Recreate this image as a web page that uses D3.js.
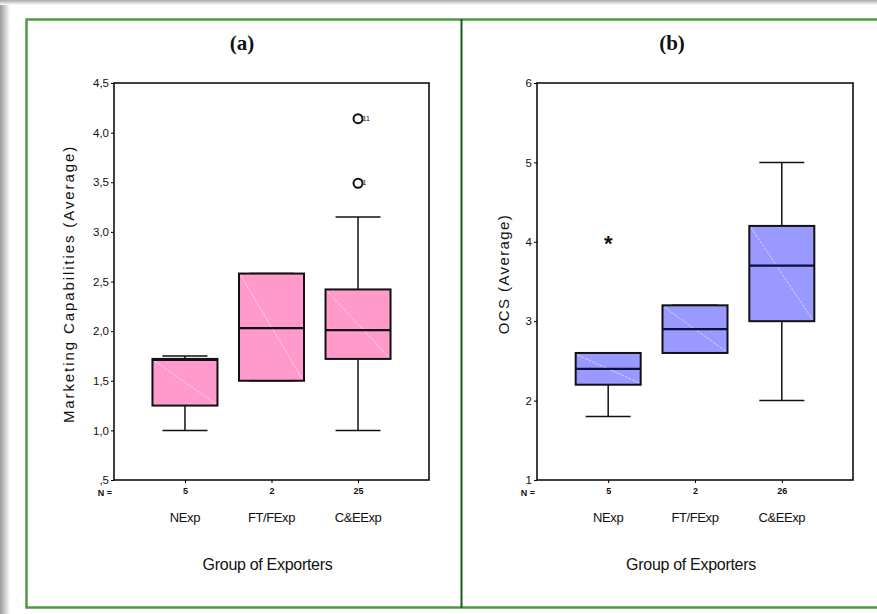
<!DOCTYPE html>
<html>
<head>
<meta charset="utf-8">
<script src="https://cdn.jsdelivr.net/npm/d3@7"></script>
<style>
  body { margin: 0; background: #fff; }
  svg { display: block; }
  text { font-family: "Liberation Sans Narrow", "Liberation Sans", Arial, sans-serif; fill: #111; }
</style>
</head>
<body>
<svg id="chart" width="877" height="614"></svg>
<script>
// groups and counts
const groups = ['NExp', 'FT/FExp', 'C&EExp'];
const countsA = [5, 2, 25];
const countsB = [5, 2, 26];

// box stats: [lowWhisker, q1, median, q3, highWhisker]
const marketingStats = [
  [1.0, 1.25, 1.71, 1.72, 1.75],
  [1.5, 1.5, 2.03, 2.58, 2.58],
  [1.0, 1.72, 2.01, 2.42, 3.15]
];
const marketingOutliers = [
  { group: 'C&EExp', value: 4.14, label: '11' },
  { group: 'C&EExp', value: 3.49, label: '1' }
];
const ocsStats = [
  [1.8, 2.2, 2.4, 2.6, 2.6],
  [2.6, 2.6, 2.9, 3.2, 3.2],
  [2.0, 3.0, 3.7, 4.2, 5.0]
];
const ocsExtremes = [
  { group: 'NExp', value: 4.0 }
];

const ticksA = [0.5, 1.0, 1.5, 2.0, 2.5, 3.0, 3.5, 4.0, 4.5];
const ticksB = [1, 2, 3, 4, 5, 6];

const svg = d3.select('#chart');

// shadow on the top and left edge
const defs = svg.append('defs');
const gl = defs.append('linearGradient').attr('id', 'shL').attr('x1', 0).attr('x2', 1).attr('y1', 0).attr('y2', 0);
gl.append('stop').attr('offset', 0).attr('stop-color', '#9a9a9a');
gl.append('stop').attr('offset', 1).attr('stop-color', '#fff');
const gt = defs.append('linearGradient').attr('id', 'shT').attr('x1', 0).attr('x2', 0).attr('y1', 0).attr('y2', 1);
gt.append('stop').attr('offset', 0).attr('stop-color', '#a8a8a8');
gt.append('stop').attr('offset', 1).attr('stop-color', '#fff');
svg.append('rect').attr('x', 0).attr('y', 0).attr('width', 10).attr('height', 614).attr('fill', 'url(#shL)');
svg.append('rect').attr('x', 0).attr('y', 0).attr('width', 877).attr('height', 5).attr('fill', 'url(#shT)');

// green frame
svg.append('path')
  .attr('d', 'M880,19.5 H26.5 V607.5 H880')
  .attr('fill', 'none').attr('stroke', '#4e9a44').attr('stroke-width', 2.5);
svg.append('line')
  .attr('x1', 461.5).attr('x2', 461.5).attr('y1', 19).attr('y2', 608)
  .attr('stroke', '#1d5a1d').attr('stroke-width', 2);

function drawPanel(opt) {
  const x = d3.scalePoint()
    .domain(groups)
    .range([opt.left, opt.right])
    .padding(0.82);
  const y = d3.scaleLinear()
    .domain(opt.domain)
    .range([480, 83]);

  const g = svg.append('g');

  // title
  g.append('text')
    .attr('x', opt.titleX).attr('y', 50)
    .attr('text-anchor', 'middle')
    .style('font-family', '"Liberation Serif", "DejaVu Serif", serif')
    .style('font-weight', 'bold')
    .style('font-size', '21px')
    .text(opt.title);

  // plot frame
  g.append('rect')
    .attr('x', opt.left).attr('y', 83)
    .attr('width', opt.right - opt.left).attr('height', 397)
    .attr('fill', 'none').attr('stroke', '#111').attr('stroke-width', 1.6);

  // y axis
  const yAxis = g.append('g')
    .attr('transform', 'translate(' + opt.left + ',0)')
    .call(d3.axisLeft(y).tickValues(opt.ticks).tickSize(3).tickFormat(opt.fmt));
  yAxis.select('.domain').remove();
  yAxis.selectAll('text').style('font-size', '11.5px').attr('dx', '1px');

  // x axis ticks with N counts
  const xAxis = g.append('g')
    .attr('transform', 'translate(0,480)')
    .call(d3.axisBottom(x).tickSize(3).tickFormat((d, i) => opt.counts[i]));
  xAxis.select('.domain').remove();
  xAxis.selectAll('text').style('font-size', '9px').style('font-weight', 'bold').attr('dy', '0.9em');

  g.append('text')
    .attr('x', opt.left - 2).attr('y', 496)
    .attr('text-anchor', 'end')
    .style('font-size', '9px')
    .style('font-weight', 'bold')
    .text('N =');

  // category labels
  g.selectAll('.cat')
    .data(groups)
    .enter().append('text')
    .attr('class', 'cat')
    .attr('x', d => x(d))
    .attr('y', 522)
    .attr('text-anchor', 'middle')
    .style('font-size', '13px')
    .style('letter-spacing', '-0.4px')
    .text(d => d);

  g.append('text')
    .attr('x', (opt.left + opt.right) / 2 - 4).attr('y', 570)
    .attr('text-anchor', 'middle')
    .style('font-size', '16px')
    .style('letter-spacing', '-0.3px')
    .text('Group of Exporters');

  g.append('text')
    .attr('transform', 'translate(' + opt.titleYx + ',' + opt.titleYy + ') rotate(-90)')
    .attr('text-anchor', 'middle')
    .style('font-family', '"Liberation Sans", Arial, sans-serif')
    .style('font-size', '15px')
    .style('letter-spacing', opt.yTitleSpacing)
    .text(opt.yTitle);

  const boxW = 65, capW = 45;

  const boxes = g.selectAll('.box')
    .data(opt.stats)
    .enter().append('g')
    .attr('class', 'box');

  // whiskers
  boxes.append('line')
    .attr('x1', (d, i) => x(groups[i])).attr('x2', (d, i) => x(groups[i]))
    .attr('y1', d => y(d[0])).attr('y2', d => y(d[4]))
    .attr('stroke', '#111').attr('stroke-width', 1.5);
  boxes.append('line')
    .attr('x1', (d, i) => x(groups[i]) - capW / 2).attr('x2', (d, i) => x(groups[i]) + capW / 2)
    .attr('y1', d => y(d[0])).attr('y2', d => y(d[0]))
    .attr('stroke', '#111').attr('stroke-width', 1.5);
  boxes.append('line')
    .attr('x1', (d, i) => x(groups[i]) - capW / 2).attr('x2', (d, i) => x(groups[i]) + capW / 2)
    .attr('y1', d => y(d[4])).attr('y2', d => y(d[4]))
    .attr('stroke', '#111').attr('stroke-width', 1.5);

  // box body
  boxes.append('rect')
    .attr('x', (d, i) => x(groups[i]) - boxW / 2)
    .attr('y', d => y(d[3]))
    .attr('width', boxW)
    .attr('height', d => y(d[1]) - y(d[3]))
    .attr('fill', opt.fill)
    .attr('stroke', '#111').attr('stroke-width', 2);

  // faint diagonal sheen
  boxes.append('line')
    .attr('x1', (d, i) => x(groups[i]) - boxW / 2 + 2).attr('y1', d => y(d[3]) + 2)
    .attr('x2', (d, i) => x(groups[i]) + boxW / 2 - 2).attr('y2', d => y(d[1]) - 2)
    .attr('stroke', '#fff').attr('stroke-opacity', 0.55).attr('stroke-width', 1)
    .attr('stroke-dasharray', '3,1');

  // median
  boxes.append('line')
    .attr('x1', (d, i) => x(groups[i]) - boxW / 2).attr('x2', (d, i) => x(groups[i]) + boxW / 2)
    .attr('y1', d => y(d[2])).attr('y2', d => y(d[2]))
    .attr('stroke', opt.medianColor).attr('stroke-width', 2.2);

  return { x, y, g };
}

const pa = drawPanel({
  left: 114, right: 429, domain: [0.5, 4.5], ticks: ticksA,
  fmt: d => (d < 1 ? ',5' : d3.format('.1f')(d).replace('.', ',')),
  counts: countsA, stats: marketingStats, fill: '#ff9acb', medianColor: '#111',
  title: '(a)', titleX: 242, yTitle: 'Marketing Capabilities (Average)', yTitleSpacing: '1.9px',
  titleYx: 74, titleYy: 284
});

pa.g.selectAll('.outlier')
  .data(marketingOutliers)
  .enter().append('circle')
  .attr('class', 'outlier')
  .attr('cx', d => pa.x(d.group))
  .attr('cy', d => pa.y(d.value))
  .attr('r', 4.5)
  .attr('fill', 'none').attr('stroke', '#111').attr('stroke-width', 2);
pa.g.selectAll('.olab')
  .data(marketingOutliers)
  .enter().append('text')
  .attr('class', 'olab')
  .attr('x', d => pa.x(d.group) + 4.5)
  .attr('y', d => pa.y(d.value) + 2)
  .style('font-size', '7px')
  .text(d => d.label);

const pb = drawPanel({
  left: 537, right: 853, domain: [1, 6], ticks: ticksB,
  fmt: d3.format('d'),
  counts: countsB, stats: ocsStats, fill: '#9999ff', medianColor: '#0d0d40',
  title: '(b)', titleX: 672, yTitle: 'OCS (Average)', yTitleSpacing: '1.4px',
  titleYx: 509, titleYy: 274
});

pb.g.selectAll('.extreme')
  .data(ocsExtremes)
  .enter().append('text')
  .attr('class', 'extreme')
  .attr('x', d => pb.x(d.group))
  .attr('y', d => pb.y(d.value) + 9)
  .attr('text-anchor', 'middle')
  .style('font-size', '22px')
  .style('font-weight', 'bold')
  .text('*');
</script>
</body>
</html>
